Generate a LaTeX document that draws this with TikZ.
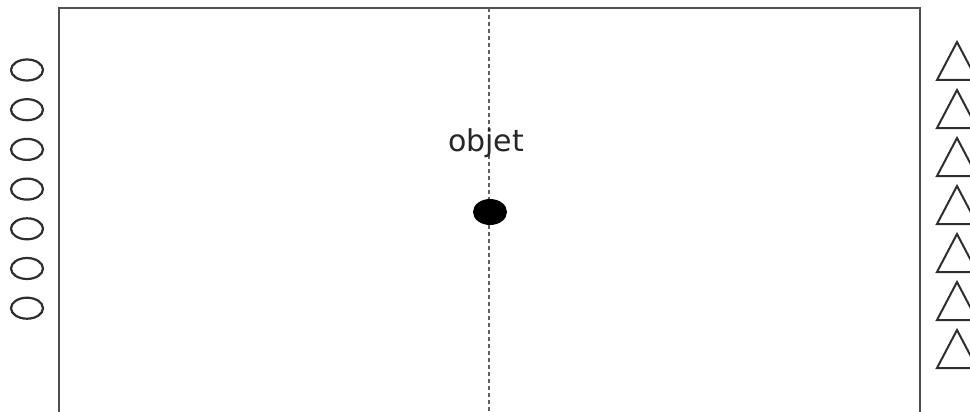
\documentclass[tikz,border=0pt]{standalone}
\usepackage{fontspec}
\setmainfont{DejaVu Sans}
\usepackage{tikz}
\usetikzlibrary{positioning,shapes.geometric}
\definecolor{frame}{HTML}{505050}
\definecolor{ink}{HTML}{2E2E2E}
\definecolor{axis}{HTML}{606060}
\tikzset{
  field/.style={draw=frame, line width=2.6pt},
  axisline/.style={draw=axis, line width=1.6pt, dash pattern=on 4pt off 3pt},
  ring/.style={ellipse, draw=ink, line width=2.2pt, minimum width=32pt, minimum height=21pt, inner sep=0pt},
  cone/.style={draw=ink, line width=2pt, line join=miter},
  ball/.style={ellipse, fill=black, minimum width=34pt, minimum height=26pt, inner sep=0pt},
  lbl/.style={font=\fontsize{30}{34}\selectfont, text=black!85, inner sep=0pt}
}
\begin{document}
\begin{tikzpicture}[x=1pt, y=-1pt]
 \useasboundingbox (0,0) rectangle (970,412);
 % frame, open at the bottom
 \coordinate (fbl) at (59,420);
 \coordinate (ftl) at (59,8);
 \coordinate (ftr) at (920,8);
 \coordinate (fbr) at (920,420);
 \draw[field] (fbl) -- (ftl) -- (ftr) -- (fbr);
 % middle line
 \coordinate (mtop) at (489,8);
 \coordinate (mbot) at (489,420);
 \draw[axisline] (mtop) -- (mbot);
 % object
 \node[ball] (obj) at (490,212) {};
 \node[lbl, anchor=base] (objlbl) at (486,151) {objet};
 % left column
 \foreach \i in {0,...,6}
   \node[ring] (o\i) at (27,{70+39.7*\i}) {};
 % right column
 \foreach \i in {0,...,6}
   \draw[cone] (937,{80+48*\i}) -- (957,{42+48*\i}) -- (977,{80+48*\i}) -- cycle;
\end{tikzpicture}
\end{document}
